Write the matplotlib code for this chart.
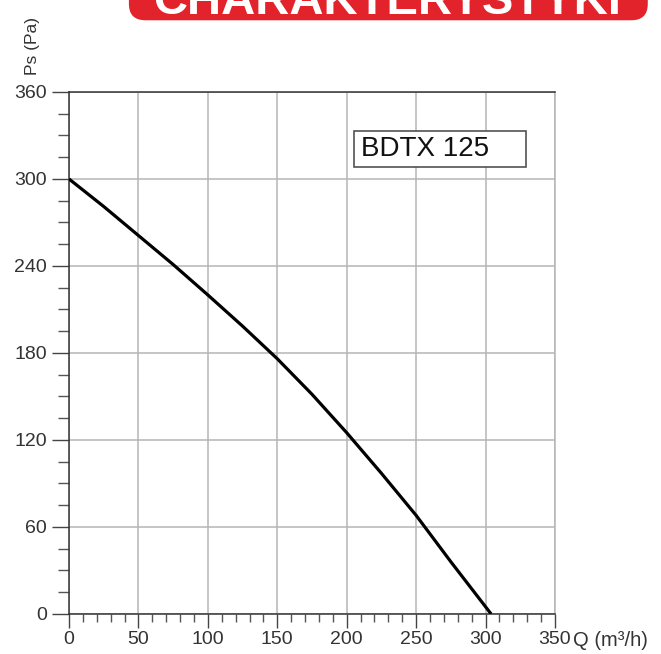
import matplotlib.pyplot as plt
from matplotlib.patches import Rectangle, FancyBboxPatch
from matplotlib.ticker import MultipleLocator

plt.rcParams['font.family'] = ['Liberation Sans', 'DejaVu Sans']

# fan curve BDTX 125
flow = [0, 25, 50, 75, 100, 125, 150, 175, 200, 225, 250, 275, 304]
pressure = [300, 281, 261, 241, 220, 198.5, 176, 151.5, 125, 97, 68, 36, 0]

x_ticks = [0, 50, 100, 150, 200, 250, 300, 350]
y_ticks = [0, 60, 120, 180, 240, 300, 360]
model = "BDTX 125"
banner = "CHARAKTERYSTYKI"

fig = plt.figure(figsize=(6.61, 6.54), dpi=100)
ax = fig.add_axes([0.1044, 0.0612, 0.7352, 0.7982])

ax.plot(flow, pressure, color='black', linewidth=2.3, solid_capstyle='butt',
        solid_joinstyle='round', zorder=3)

ax.set_xlim(0, 350)
ax.set_ylim(0, 360)
ax.set_xticks(x_ticks)
ax.set_yticks(y_ticks)
ax.xaxis.set_minor_locator(MultipleLocator(10))
ax.yaxis.set_minor_locator(MultipleLocator(15))
ax.grid(True, which='major', color='#b5b5b5', linewidth=1.1)
ax.set_axisbelow(True)

ax.tick_params(axis='y', which='major', direction='out', length=12, width=1,
               color='#444444', labelsize=14, labelcolor='#333333', pad=4)
ax.tick_params(axis='y', which='minor', direction='out', length=8, width=1, color='#555555')
ax.tick_params(axis='x', which='major', direction='out', length=10, width=1,
               color='#444444', labelsize=14, labelcolor='#333333', pad=2)
ax.tick_params(axis='x', which='minor', direction='out', length=6, width=1, color='#555555')

for side in ['left', 'bottom', 'top']:
    ax.spines[side].set_color('#333333')
    ax.spines[side].set_linewidth(1.1)
ax.spines['right'].set_color('#b5b5b5')
ax.spines['right'].set_linewidth(1.1)

# model label box
ax.add_patch(Rectangle((205, 308), 124, 25, facecolor='white', edgecolor='#444444',
                       linewidth=1.1, zorder=4))
ax.text(210, 320.5, model, fontsize=20, va='center', ha='left', color='#111111', zorder=5)

# axis titles
fig.text(0.867, 0.0205, 'Q (m³/h)', fontsize=14.5, color='#333333', ha='left', va='center')
fig.text(0.049, 0.93, 'Ps (Pa)', fontsize=12.5, color='#333333', rotation=90,
         ha='center', va='center')

# red header banner, cut off at the top of the page
fig.patches.append(FancyBboxPatch((0.195, 0.969), 0.785, 0.1,
                                  boxstyle='round,pad=0,rounding_size=0.025',
                                  transform=fig.transFigure, facecolor='#e3232c',
                                  edgecolor='none', zorder=0))
fig.patches.append(Rectangle((0.195, 0.995), 0.03, 0.1, transform=fig.transFigure,
                             facecolor='#e3232c', edgecolor='none'))
fig.text(0.585, 1 - 14 / 654, banner, fontsize=34, fontweight='bold', color='white',
         ha='center', va='baseline')

fig.savefig('out.png', dpi=100)
